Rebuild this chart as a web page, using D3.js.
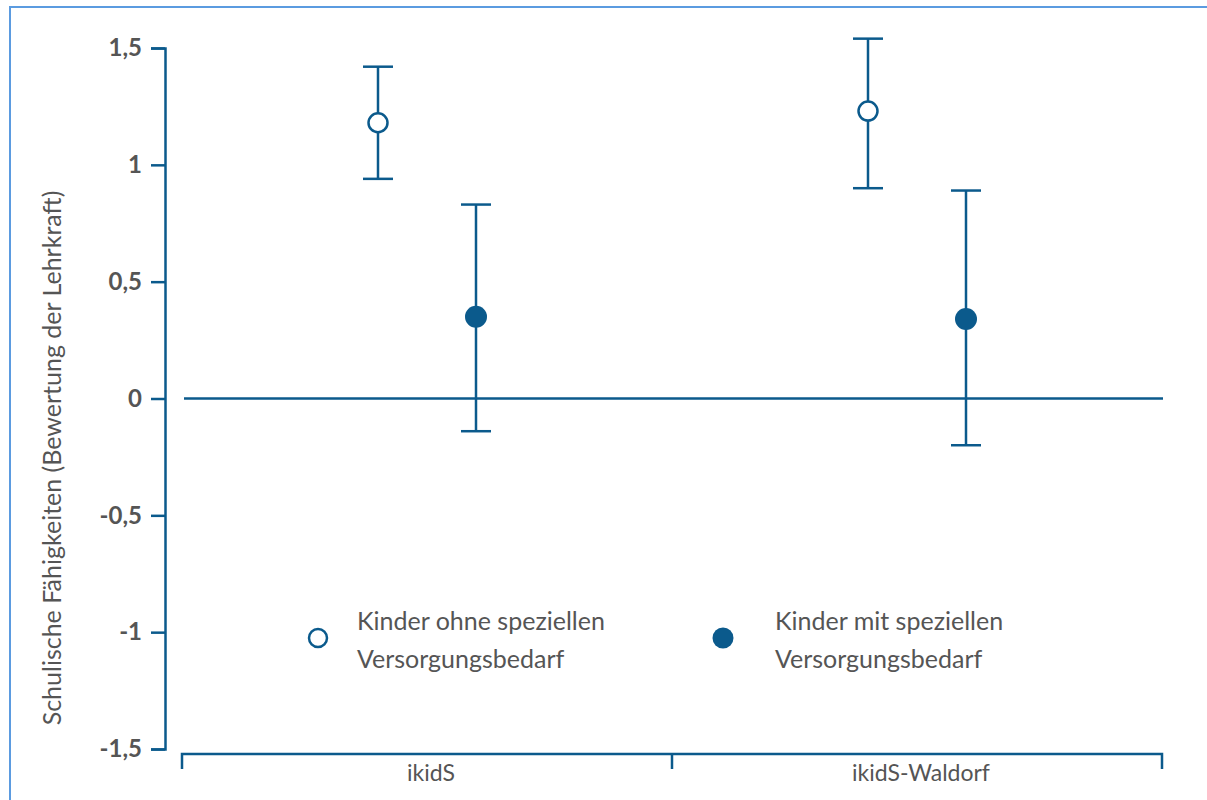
<!DOCTYPE html>
<html>
<head>
<meta charset="utf-8">
<title>Schulische Fähigkeiten</title>
<script src="https://d3js.org/d3.v7.min.js"></script>
<style>
  body { margin: 0; background: #fff; }
  svg text { font-family: Lato, "Open Sans", sans-serif; fill: #555; }
</style>
</head>
<body>
<div id="chart"></div>
<script>
// data
var groups = ["ikidS", "ikidS-Waldorf"];
var seriesNames = ["Kinder ohne speziellen Versorgungsbedarf", "Kinder mit speziellen Versorgungsbedarf"];
var means = [[1.18, 0.35], [1.23, 0.34]];
var lower = [[0.94, -0.14], [0.90, -0.20]];
var upper = [[1.42, 0.83], [1.54, 0.89]];
var yTicks = [1.5, 1, 0.5, 0, -0.5, -1, -1.5];

var W = 1207, H = 800, blue = "#0b5a8c";
var svg = d3.select("#chart").append("svg").attr("width", W).attr("height", H);

// frame
svg.append("path").attr("d", "M10,800 V7 H1207")
  .attr("fill", "none").attr("stroke", "#5b9be0").attr("stroke-width", 2);

var y = d3.scaleLinear().domain([-1.5, 1.5]).range([749, 48]);
var x = d3.scaleBand().domain(groups).range([182, 1162]);
var off = d3.scaleOrdinal().domain([0, 1]).range([-49, 49]);

// y axis
var yAxis = svg.append("g").attr("transform", "translate(165,0)")
  .call(d3.axisLeft(y).tickValues(yTicks).tickSize(14).tickPadding(9)
    .tickFormat(function(d) { return String(d).replace(".", ","); }));
yAxis.select(".domain").attr("stroke", blue).attr("stroke-width", 2.5);
yAxis.selectAll(".tick line").attr("stroke", blue).attr("stroke-width", 2.5);
yAxis.selectAll(".tick text").attr("fill", "#555").style("font-size", "24px")
  .style("font-weight", "bold").style("font-family", "Lato, sans-serif");

// x axis
var xAxis = svg.append("g").attr("transform", "translate(4,754)")
  .call(d3.axisBottom(x).tickSize(0).tickPadding(11));
xAxis.select(".domain").remove();
svg.append("path")
  .attr("d", "M" + x.range()[0] + ",769 V754 H" + x.range()[1] + " V769")
  .attr("fill", "none").attr("stroke", blue).attr("stroke-width", 2.5);
svg.append("line").attr("x1", x("ikidS-Waldorf")).attr("x2", x("ikidS-Waldorf"))
  .attr("y1", 754).attr("y2", 769).attr("stroke", blue).attr("stroke-width", 2.5);
xAxis.selectAll(".tick text").attr("fill", "#555").style("font-size", "23px")
  .style("font-family", "Lato, sans-serif");

// zero line
svg.append("line").attr("x1", 184).attr("x2", 1163).attr("y1", y(0)).attr("y2", y(0))
  .attr("stroke", blue).attr("stroke-width", 2.5);

// y title
svg.append("text").attr("transform", "translate(61,458) rotate(-90)")
  .attr("text-anchor", "middle").style("font-size", "25px")
  .text("Schulische Fähigkeiten (Bewertung der Lehrkraft)");

// error bars + points
var pts = [];
groups.forEach(function(g, gi) {
  [0, 1].forEach(function(s) {
    pts.push({ g: g, s: s, m: means[gi][s], lo: lower[gi][s], hi: upper[gi][s] });
  });
});
var cx = function(d) { return x(d.g) + x.bandwidth() / 2 + off(d.s); };
var pg = svg.append("g").selectAll("g").data(pts).enter().append("g");
pg.append("line").attr("x1", cx).attr("x2", cx)
  .attr("y1", function(d) { return y(d.lo); }).attr("y2", function(d) { return y(d.hi); })
  .attr("stroke", blue).attr("stroke-width", 2.5);
pg.append("line").attr("x1", function(d) { return cx(d) - 15; }).attr("x2", function(d) { return cx(d) + 15; })
  .attr("y1", function(d) { return y(d.hi); }).attr("y2", function(d) { return y(d.hi); })
  .attr("stroke", blue).attr("stroke-width", 2.5);
pg.append("line").attr("x1", function(d) { return cx(d) - 15; }).attr("x2", function(d) { return cx(d) + 15; })
  .attr("y1", function(d) { return y(d.lo); }).attr("y2", function(d) { return y(d.lo); })
  .attr("stroke", blue).attr("stroke-width", 2.5);
pg.append("circle").attr("cx", cx).attr("cy", function(d) { return y(d.m); })
  .attr("r", function(d) { return d.s === 0 ? 9.5 : 11; })
  .attr("fill", function(d) { return d.s === 0 ? "#fff" : blue; })
  .attr("stroke", blue).attr("stroke-width", function(d) { return d.s === 0 ? 2.5 : 0; });

// legend
var lg = svg.append("g").selectAll("g").data(seriesNames).enter().append("g")
  .attr("transform", function(d, i) { return "translate(" + (318 + i * 405) + ",638)"; });
lg.append("circle").attr("r", function(d, i) { return i === 0 ? 9 : 10.5; })
  .attr("fill", function(d, i) { return i === 0 ? "#fff" : blue; })
  .attr("stroke", blue).attr("stroke-width", function(d, i) { return i === 0 ? 2.5 : 0; });
var lt = lg.append("text").style("font-size", "25px");
lt.append("tspan").attr("x", function(d, i) { return i === 0 ? 39 : 52; }).attr("y", -8)
  .text(function(d) { return d.split(" Versorgungsbedarf")[0]; });
lt.append("tspan").attr("x", function(d, i) { return i === 0 ? 39 : 52; }).attr("y", 30)
  .text("Versorgungsbedarf");
</script>
</body>
</html>
